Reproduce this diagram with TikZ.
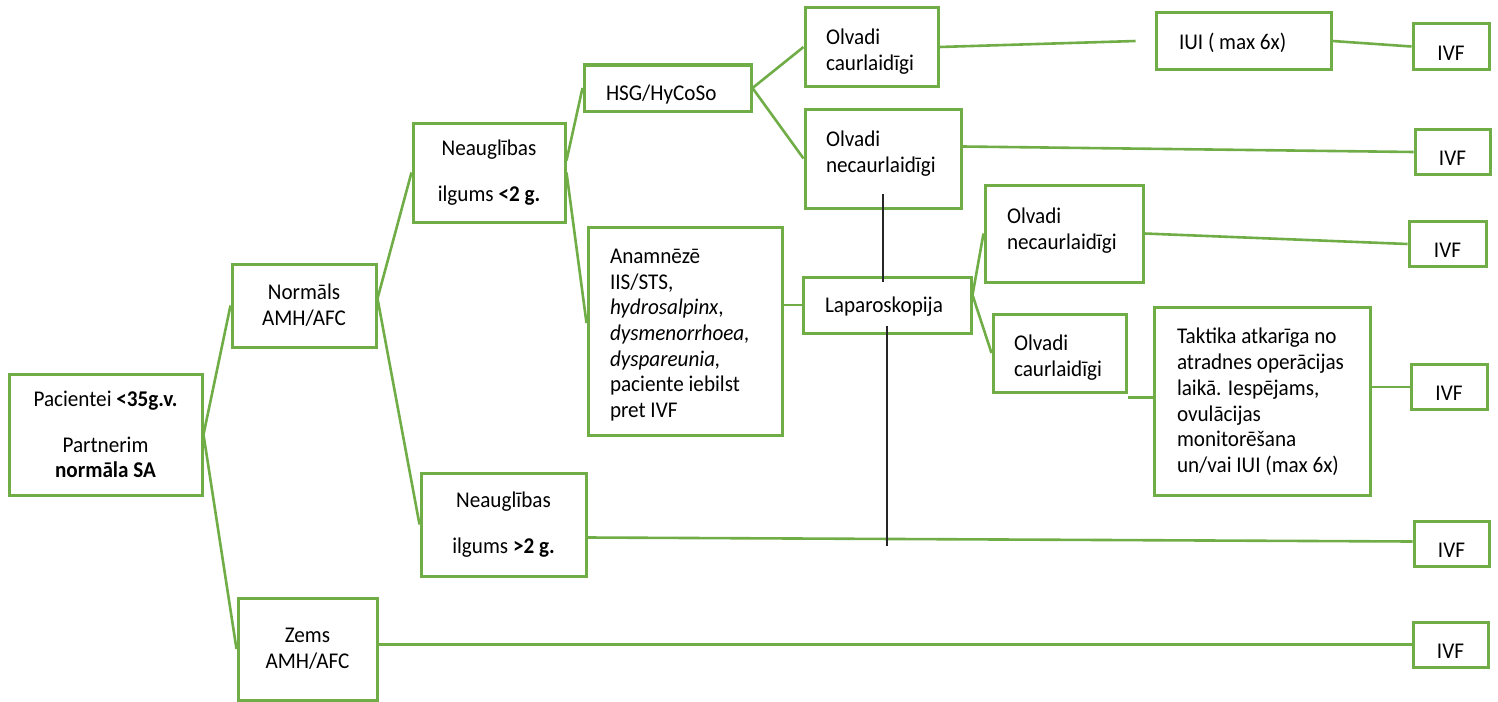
\documentclass[tikz,border=0pt]{standalone}
\usepackage{fontspec}
\setmainfont{Carlito}[FakeStretch=0.94]
\usetikzlibrary{calc}
\definecolor{grn}{HTML}{70AD47}
\begin{document}
\begin{tikzpicture}[x=1pt,y=-1pt,
  font=\fontsize{22.5}{25.7}\selectfont,
  cbox/.style n args={2}{draw=grn, line width=3pt, inner sep=0pt, minimum width=#1, minimum height=#2, align=center},
  lbox/.style n args={4}{draw=grn, line width=3pt, inner ysep=0pt, inner xsep=#4, text width=#3, minimum width=#1, minimum height=#2, align=flush left},
  ivfbox/.style={cbox={#1}{45pt}, text height=27pt, text depth=0pt},
  ln/.style={draw=grn, line width=2.6pt},
  blk/.style={draw=black!85, line width=1.3pt}
]
\useasboundingbox (0,0) rectangle (1498,701);

% nodes
\node[cbox={193pt}{121pt}] (pac) at (105.5,434.5) {Pacientei \textbf{<35g.v.}\\[20pt]Partnerim\\\textbf{normāla SA}};
\node[cbox={144pt}{83pt}] (norm) at (304,305.5) {Normāls\\AMH/AFC};
\node[cbox={139pt}{102pt}] (zems) at (307.5,649) {Zems\\AMH/AFC};
\node[cbox={152pt}{99pt}] (n1) at (489,172.5) {Neauglības\\[21pt]ilgums \textbf{<2 g.}};
\node[cbox={165pt}{103pt}] (n2) at (503.5,524.5) {Neauglības\\[21pt]ilgums \textbf{>2 g.}};
\node[lbox={167pt}{46pt}{123pt}{22pt}, text height=24pt, text depth=0pt] (hsg) at (667.5,88) {HSG/HyCoSo};
\node[lbox={194pt}{208pt}{150pt}{22pt}, text height=22.8pt] (anam) at (685,331) {Anamnēzē\\IIS/STS,\\\textit{hydrosalpinx},\\\textit{dysmenorrhoea,}\\\textit{dyspareunia,}\\paciente iebilst\\pret IVF};
\node[lbox={133pt}{78pt}{91pt}{21pt}, text height=24.3pt] (olv1) at (871.5,47) {Olvadi\\caurlaidīgi};
\node[lbox={156pt}{99pt}{114pt}{21pt}, text height=5.3pt] (olv2) at (883,158.5) {Olvadi\\necaurlaidīgi};
\node[lbox={168pt}{56pt}{124pt}{22pt}, text height=14pt, text depth=0pt] (lap) at (887,305) {Laparoskopija};
\node[lbox={158pt}{97pt}{114pt}{22pt}, text height=9.3pt] (olv3) at (1064,233.5) {Olvadi\\necaurlaidīgi};
\node[lbox={133pt}{78pt}{91pt}{21pt}, text height=24.3pt] (olv4) at (1059.5,353) {Olvadi\\caurlaidīgi};
\node[lbox={216pt}{188pt}{170pt}{23pt}, text height=17.5pt] (tak) at (1262,401) {Taktika atkarīga no\\atradnes operācijas\\laikā. Iespējams,\\ovulācijas\\monitorēšana\\un/vai IUI (max 6x)};
\node[lbox={175pt}{56pt}{129pt}{23pt}, text height=18pt, text depth=0pt] (iui) at (1243.5,41) {IUI ( max 6x)};
\node[ivfbox=76pt] (ivf1) at (1451,46.5) {IVF};
\node[ivfbox=75pt] (ivf2) at (1452.5,152) {IVF};
\node[ivfbox=77pt] (ivf3) at (1447.5,244) {IVF};
\node[ivfbox=76pt] (ivft) at (1449,387) {IVF};
\node[ivfbox=75pt] (ivf4) at (1451.5,543.5) {IVF};
\node[ivfbox=75pt] (ivf5) at (1450.5,644.5) {IVF};

% connectors
\draw[ln] (pac.east) -- (norm.west);
\draw[ln] (pac.east) -- (zems.west);
\draw[ln] ([yshift=7pt]norm.east) -- (n1.west);
\draw[ln] ([yshift=7pt]norm.east) -- (n2.west);
\draw[ln] ([yshift=12pt]n1.east) -- (hsg.west);
\draw[ln] (n1.east) -- ([yshift=8pt]anam.west);
\draw[ln] (hsg.east) -- (olv1.west);
\draw[ln] (hsg.east) -- (olv2.west);
\draw[ln] (olv1.east) -- ([xshift=-19pt]iui.west);
\draw[ln] (iui.east) -- (ivf1.west);
\draw[ln] ([yshift=12pt]olv2.east) -- (ivf2.west);
\draw[ln] (anam.east |- lap.west) -- (lap.west);
\draw[ln] ([yshift=10pt]lap.east) -- (olv3.west);
\draw[ln] ([yshift=10pt]lap.east) -- (olv4.west);
\draw[ln] (olv3.east) -- (ivf3.west);
\coordinate (c1) at ($(olv4.south east)+(0,4)$);
\draw[ln] (c1) -- (c1 -| tak.west);
\draw[ln] (tak.east |- ivft.west) -- (ivft.west);
\draw[ln] ([yshift=-13pt]n2.east) -- ([yshift=2pt]ivf4.west);
\draw[ln] (zems.east |- ivf5.west) -- (ivf5.west);
\draw[blk] ($(olv2.south)+(0,-16)$) -- ($(olv2.south |- lap.north)+(0,6)$);
\draw[blk] ($(lap.south)+(0,-9)$) -- ($(lap.south)+(0,211)$);
\end{tikzpicture}
\end{document}
